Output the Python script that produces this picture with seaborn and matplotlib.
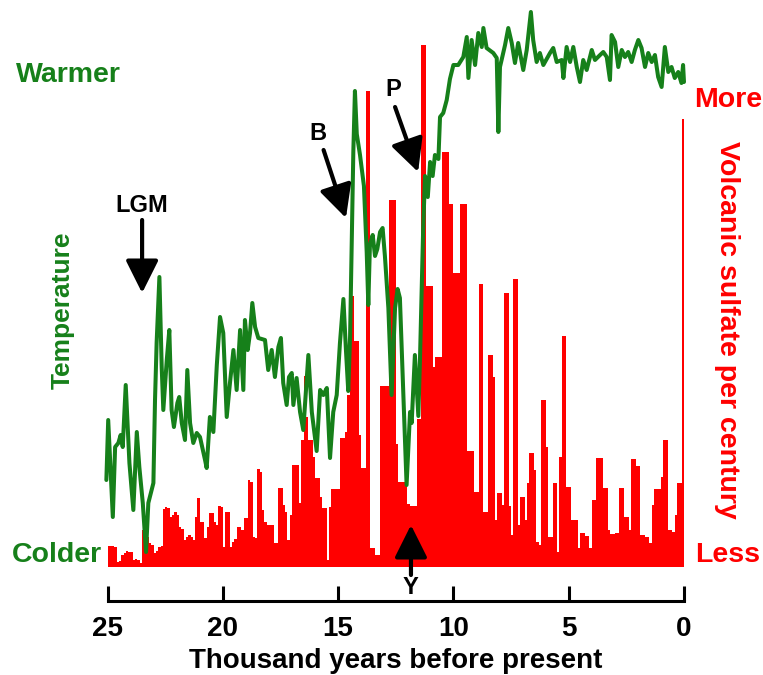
import numpy as np
import pandas as pd
import matplotlib
matplotlib.use("Agg")
import matplotlib.pyplot as plt
import seaborn as sns

# Volcanic sulfate per century (relative units), oldest century (25.0-24.9 ka) first
sulfate = [
    21, 21, 21, 20, 5, 6, 12, 14, 16, 15,
    15, 7, 8, 7, 4, 37, 36, 30, 24, 22,
    14, 16, 20, 21, 58, 60, 59, 50, 52, 55,
    52, 40, 38, 27, 30, 32, 30, 27, 50, 69,
    45, 45, 29, 40, 54, 54, 45, 42, 61, 60,
    20, 55, 55, 20, 25, 28, 40, 40, 37, 49,
    49, 87, 85, 30, 29, 98, 95, 57, 45, 42,
    42, 42, 24, 24, 79, 79, 62, 55, 27, 52,
    102, 102, 102, 64, 127, 191, 150, 127, 127, 110,
    89, 89, 70, 59, 59, 7, 60, 78, 78, 78,
    78, 129, 129, 135, 172, 271, 271, 226, 226, 132,
    99, 99, 476, 476, 19, 19, 12, 12, 181, 181,
    181, 181, 367, 367, 367, 123, 85, 85, 85, 85,
    63, 61, 61, 61, 148, 148, 522, 522, 281, 281,
    281, 200, 210, 210, 210, 415, 415, 415, 363, 363,
    294, 294, 294, 363, 363, 363, 116, 116, 116, 75,
    75, 283, 283, 55, 55, 212, 212, 190, 47, 74,
    74, 62, 274, 274, 61, 32, 288, 288, 42, 70,
    70, 47, 84, 114, 114, 97, 25, 22, 167, 167,
    120, 30, 30, 84, 84, 15, 110, 231, 231, 80,
    80, 47, 47, 47, 19, 34, 34, 31, 31, 19,
    67, 67, 109, 109, 109, 79, 79, 37, 33, 33,
    34, 34, 79, 79, 50, 50, 37, 108, 108, 101,
    101, 32, 32, 30, 30, 24, 62, 78, 78, 78,
    90, 127, 127, 37, 37, 35, 52, 84, 84, 448,
]
# Century mid-points in thousand years before present
century_mid = np.round(24.95 - 0.1 * np.arange(len(sulfate)), 2)

# Temperature record (relative index) against age in thousand years before present
temp_age = [
    25.05, 24.97, 24.77, 24.67, 24.53, 24.43, 24.34, 24.21, 24.05, 23.88,
    23.73, 23.62, 23.47, 23.33, 23.23, 23.01, 22.94, 22.87, 22.75, 22.65,
    22.58, 22.43, 22.32, 22.22, 22.12, 21.97, 21.89, 21.78, 21.64, 21.54,
    21.42, 21.28, 21.13,
    20.99, 20.77, 20.70, 20.56, 20.41, 20.26, 20.12, 19.98, 19.83, 19.69,
    19.54, 19.40, 19.25, 19.11, 19.04, 18.92, 18.82, 18.72, 18.60, 18.46,
    18.17, 18.03, 17.88, 17.74, 17.59, 17.48, 17.38, 17.23, 17.13, 17.01,
    16.94, 16.80, 16.65, 16.51, 16.29, 16.14, 15.93, 15.78, 15.64, 15.49,
    15.35, 15.21, 15.06, 14.92, 14.77, 14.66, 14.56, 14.48, 14.41, 14.34,
    14.27, 14.19, 14.05, 13.88, 13.76, 13.69, 13.62, 13.50, 13.40, 13.30,
    13.18, 13.07, 12.97, 12.82,
    12.68, 12.53, 12.42, 12.32, 12.17, 12.03, 11.88, 11.81, 11.67, 11.52,
    11.45, 11.31, 11.23, 11.11, 11.01, 10.90, 10.80, 10.65, 10.58, 10.44,
    10.29, 10.15, 10.00,
    9.79, 9.57, 9.42, 9.35, 9.21, 9.06, 8.92, 8.77, 8.70, 8.56,
    8.27, 8.12, 8.05, 7.98, 7.76, 7.62, 7.47, 7.33, 7.19, 6.97,
    6.82, 6.64, 6.54, 6.39, 6.25, 6.10, 5.81, 5.67, 5.52, 5.30,
    5.23, 5.09, 4.94, 4.80, 4.65, 4.51, 4.37, 4.22, 4.00, 3.86,
    3.64, 3.50, 3.35, 3.21, 3.14, 2.99, 2.85, 2.70, 2.56, 2.42,
    2.27, 2.13, 1.98, 1.84, 1.69, 1.55, 1.40, 1.26, 1.12, 0.97,
    0.83, 0.68, 0.54, 0.40, 0.25, 0.11, 0.04, 0.00,
]
temp_index = [
    87, 147, 50, 120, 124, 132, 120, 182, 104, 57,
    135, 100, 64, 15, 64, 84, 167, 224, 290, 200,
    157, 207, 237, 157, 140, 164, 170, 144, 127, 197,
    144, 124, 134,
    130, 107, 99, 150, 135, 202, 250, 234, 150, 184,
    217, 177, 237, 177, 247, 217, 234, 264, 240, 229,
    227, 197, 217, 190, 220, 229, 184, 162, 190, 194,
    162, 189, 155, 137, 212, 155, 116, 177, 172, 179,
    109, 155, 172, 224, 268, 217, 176, 231, 322, 415,
    476, 433, 412, 381, 315, 262, 322, 332, 311, 318,
    335, 339, 311, 259,
    172, 259, 278, 269, 172, 82, 155, 144, 212, 151,
    207, 339, 391, 370, 405, 391, 412, 408, 450, 454,
    467, 488, 502,
    502, 510, 530, 489, 527, 502, 534, 520, 539, 519,
    514, 509, 435, 500, 522, 539, 524, 504, 524, 497,
    517, 555, 527, 505, 514, 502, 514, 519, 505, 507,
    489, 520, 505, 520, 500, 485, 507, 497, 517, 507,
    512, 515, 510, 487, 532, 525, 500, 517, 510, 515,
    505, 517, 527, 519, 500, 514, 505, 512, 490, 480,
    520, 495, 500, 489, 495, 484, 502, 485,
]

# Event arrows: tip, tail and label positions as (age, level)
event_labels = ["LGM", "B", "P", "Y"]
event_tip = [(23.50, 274), (14.66, 349), (11.53, 395), (11.84, 42)]
event_tail = [(23.50, 347), (15.63, 417), (12.53, 460), (11.84, -8)]
event_text = [(23.50, 362), (15.87, 434), (12.62, 477), (11.84, -20)]

x_ticks = [25, 20, 15, 10, 5, 0]

GREEN = "#16801a"
RED = "#ff0000"

sns.set_style("white")
plt.rcParams["font.family"] = ["Liberation Sans", "DejaVu Sans"]

W, H = 763, 675
fig = plt.figure(figsize=(W / 100, H / 100), dpi=100)
ax = fig.add_axes([102.9 / W, (H - 567) / H, 585.7 / W, 557 / H])

sulfate_df = pd.DataFrame({"age": century_mid, "sulfate": sulfate})
sns.barplot(data=sulfate_df, x="age", y="sulfate", native_scale=True,
            width=1.0, color=RED, saturation=1, linewidth=0,
            errorbar=None, ax=ax, zorder=1)

temp_df = pd.DataFrame({"age": temp_age, "temp": temp_index})
sns.lineplot(data=temp_df, x="age", y="temp", sort=False, estimator=None,
             color=GREEN, linewidth=2.9, ax=ax, zorder=3)

ax.set_xlim(25.2, -0.2)
ax.set_ylim(0, 557)

for side in ["top", "left", "right"]:
    ax.spines[side].set_visible(False)
ax.spines["bottom"].set_position(("outward", 24.5))
ax.spines["bottom"].set_bounds(0, 25)
ax.spines["bottom"].set_linewidth(2.2)
ax.spines["bottom"].set_color("black")
ax.set_yticks([])
ax.set_xticks(x_ticks)
ax.set_xticklabels([str(t) for t in x_ticks], fontsize=20, fontweight="bold")
ax.tick_params(axis="x", bottom=True, direction="in", length=11, width=2.2,
               pad=11, color="black", labelcolor="black")
ax.set_xlabel("Thousand years before present", fontsize=20,
              fontweight="bold", labelpad=4, color="black")
ax.set_ylabel("")

# Event arrows and labels
for lab, tip, tail, tpos in zip(event_labels, event_tip, event_tail, event_text):
    ax.annotate("", xy=tip, xytext=tail, xycoords="data", textcoords="data",
                annotation_clip=False,
                arrowprops=dict(arrowstyle="-|>,head_length=1.0,head_width=0.5",
                                mutation_scale=20, lw=3, color="black",
                                shrinkA=0, shrinkB=0),
                zorder=5)
    ax.text(tpos[0], tpos[1], lab, ha="center", va="center", fontsize=17,
            fontweight="bold", color="black", clip_on=False, zorder=5)


def fig_xy(x, y):
    return x / W, 1 - y / H


# Side annotations
fig.text(*fig_xy(68, 75), "Warmer", color=GREEN, fontsize=20.5,
         fontweight="bold", ha="center", va="center")
fig.text(*fig_xy(57, 555), "Colder", color=GREEN, fontsize=20.5,
         fontweight="bold", ha="center", va="center")
fig.text(*fig_xy(63, 310), "Temperature", color=GREEN, fontsize=19,
         fontweight="bold", ha="center", va="center", rotation=90)
fig.text(*fig_xy(728, 100), "More", color=RED, fontsize=20.5,
         fontweight="bold", ha="center", va="center")
fig.text(*fig_xy(728, 555), "Less", color=RED, fontsize=20.5,
         fontweight="bold", ha="center", va="center")
fig.text(*fig_xy(727, 330), "Volcanic sulfate per century", color=RED,
         fontsize=20.5, fontweight="bold", ha="center", va="center",
         rotation=270)

fig.savefig("out.png", dpi=100, facecolor="white")
